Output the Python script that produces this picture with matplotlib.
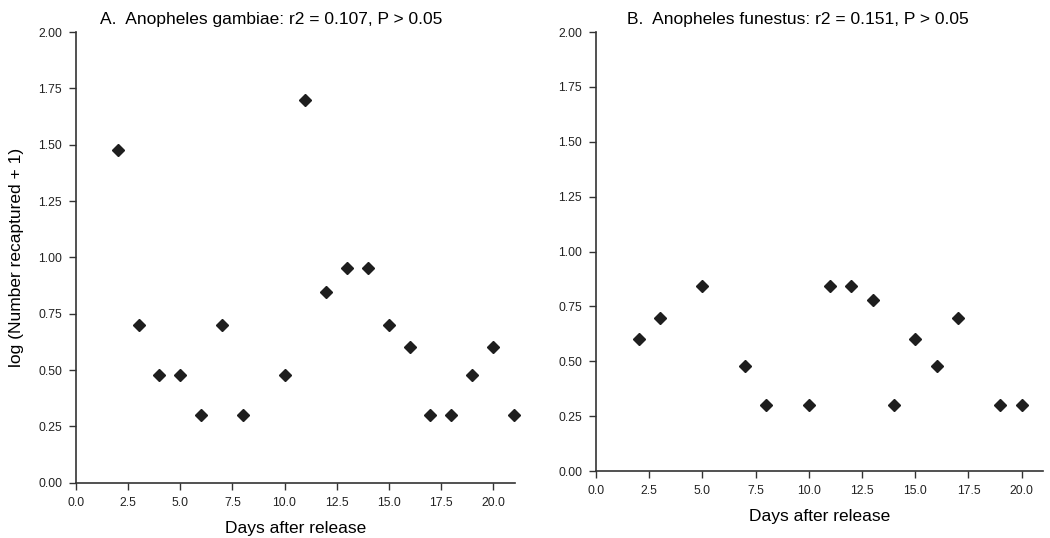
import numpy as np
import matplotlib.pyplot as plt
from matplotlib.ticker import FormatStrFormatter

plt.rcParams['font.family'] = ['Liberation Sans', 'DejaVu Sans']

# Anopheles gambiae
days_a = [2, 3, 4, 5, 6, 7, 8, 10, 11, 12, 13, 14, 15, 16, 17, 18, 19, 20, 21]
logn_a = [1.477, 0.699, 0.477, 0.477, 0.301, 0.699, 0.301, 0.477, 1.699, 0.845,
          0.954, 0.954, 0.699, 0.602, 0.301, 0.301, 0.477, 0.602, 0.301]

# Anopheles funestus
days_b = [2, 3, 5, 7, 8, 10, 11, 12, 13, 14, 15, 16, 17, 19, 20]
logn_b = [0.602, 0.699, 0.845, 0.477, 0.301, 0.301, 0.845, 0.845, 0.778, 0.301,
          0.602, 0.477, 0.699, 0.301, 0.301]

titles = ["A.  Anopheles gambiae: r2 = 0.107, P > 0.05",
          "B.  Anopheles funestus: r2 = 0.151, P > 0.05"]
xticks = np.arange(0, 20.1, 2.5)
yticks = np.arange(0, 2.01, 0.25)

fig = plt.figure(figsize=(10.5, 5.38), dpi=100)
ax1 = fig.add_axes([0.0724, 0.1028, 0.418, 0.8377])
ax2 = fig.add_axes([0.5676, 0.1245, 0.4257, 0.816])

for ax, x, y, t, xmax, tx in [(ax1, days_a, logn_a, titles[0], 21.05, 0.444),
                              (ax2, days_b, logn_b, titles[1], 21.0, 0.452)]:
    ax.plot(x, y, 'D', color='#1e1e1e', markersize=6.5, linestyle='none',
            clip_on=False)
    ax.set_xlim(0, xmax)
    ax.set_ylim(0, 2.0)
    ax.set_xticks(xticks)
    ax.set_yticks(yticks)
    ax.xaxis.set_major_formatter(FormatStrFormatter('%.1f'))
    ax.yaxis.set_major_formatter(FormatStrFormatter('%.2f'))
    for s in ['top', 'right']:
        ax.spines[s].set_visible(False)
    for s in ['left', 'bottom']:
        ax.spines[s].set_color('#333333')
        ax.spines[s].set_linewidth(1.2)
    ax.tick_params(direction='out', length=5, width=1, colors='#333333',
                   labelsize=8.8, labelcolor='#222222', pad=5)
    ax.set_xlabel("Days after release", fontsize=12.5, labelpad=9)
    ax.set_title(t, fontsize=12.5, pad=6, x=tx)

ax1.set_ylabel("log (Number recaptured + 1)", fontsize=12.5, labelpad=10)

plt.savefig("out.png", dpi=100)
